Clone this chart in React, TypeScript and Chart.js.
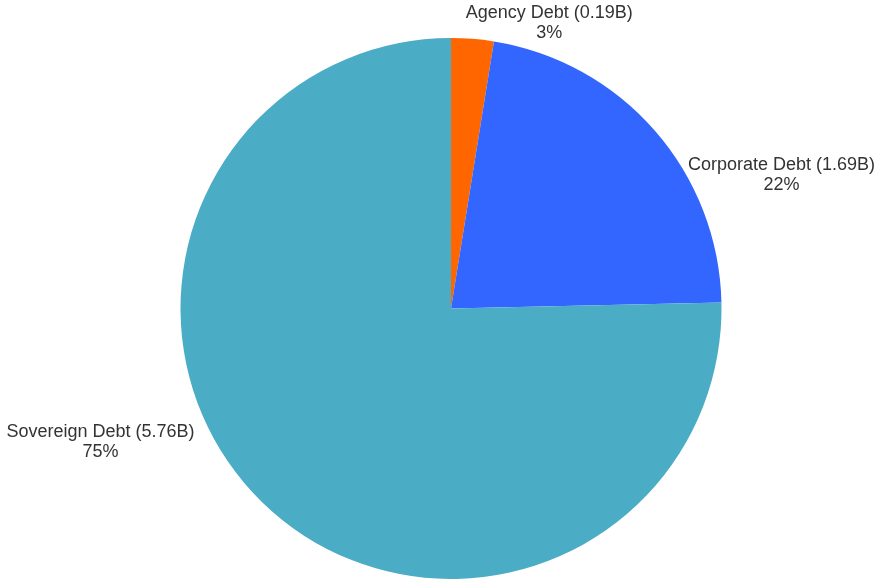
import React, { useEffect, useRef } from "react";
import { Chart, registerables } from "chart.js";

Chart.register(...registerables);

const categories = ["Agency Debt", "Corporate Debt", "Sovereign Debt"];
const values = [0.194, 1.69, 5.76];
const colors = ["#FF6600", "#3366FF", "#4BACC6"];
// label anchor offsets relative to pie centre, in units of the radius
const labelOffsets = [
  [0.363, -1.054],
  [1.222, -0.494],
  [-1.296, 0.494],
];

const labelPlugin = {
  id: "pieLabels",
  afterDraw(chart: any) {
    const ctx = chart.ctx;
    const meta = chart.getDatasetMeta(0);
    const data = chart.data.datasets[0].data as number[];
    const total = data.reduce((a, b) => a + b, 0);
    ctx.save();
    ctx.fillStyle = "#333333";
    ctx.font = '18px "Liberation Sans", Arial, sans-serif';
    ctx.textAlign = "center";
    ctx.textBaseline = "middle";
    meta.data.forEach((arc: any, i: number) => {
      const { x, y, outerRadius } = arc.getProps(["x", "y", "outerRadius"], true);
      const lx = x + labelOffsets[i][0] * outerRadius;
      const ly = y + labelOffsets[i][1] * outerRadius;
      const pct = Math.round((data[i] / total) * 100);
      ctx.fillText(`${chart.data.labels[i]} (${data[i].toFixed(2)}B)`, lx, ly - 10);
      ctx.fillText(`${pct}%`, lx, ly + 10);
    });
    ctx.restore();
  },
};

export default function App() {
  const ref = useRef<HTMLCanvasElement | null>(null);
  useEffect(() => {
    if (!ref.current) return;
    const chart = new Chart(ref.current, {
      type: "pie",
      data: {
        labels: categories,
        datasets: [
          {
            data: values,
            backgroundColor: colors,
            borderWidth: 0,
          },
        ],
      },
      options: {
        animation: false,
        responsive: false,
        maintainAspectRatio: false,
        layout: { padding: { top: 38, bottom: 0, left: 22, right: 0 } },
        plugins: {
          legend: { display: false },
          tooltip: { enabled: false },
        },
      },
      plugins: [labelPlugin],
    });
    return () => chart.destroy();
  }, []);
  return (
    <div style={{ position: "fixed", left: 0, top: 0, width: 880, height: 579, background: "#fff" }}>
      <canvas ref={ref} width={880} height={579} style={{ width: 880, height: 579, display: "block" }} />
    </div>
  );
}
